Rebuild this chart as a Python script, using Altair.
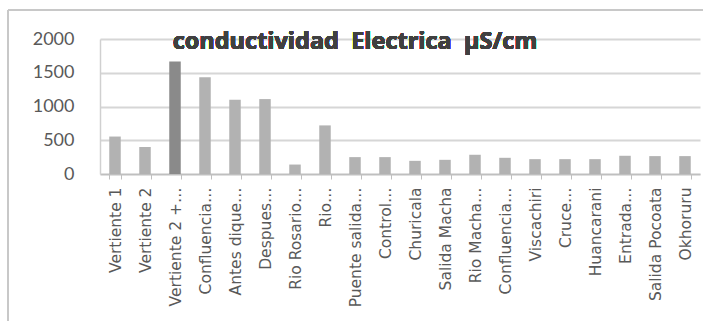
import altair as alt
import pandas as pd

# Sampling points and measured electrical conductivity (µS/cm)
sites = [
    "Vertiente 1", "Vertiente 2", "Vertiente 2 +…", "Confluencia…", "Antes dique…",
    "Despues…", "Rio Rosario…", "Rio…", "Puente salida…", "Control…",
    "Churicala", "Salida Macha", "Rio Macha…", "Confluencia…", "Viscachiri",
    "Cruce…", "Huancarani", "Entrada…", "Salida Pocoata", "Okhoruru",
]
conductivity = [
    555, 400, 1665, 1435, 1100, 1110, 140, 720, 250, 250,
    195, 210, 285, 240, 220, 220, 220, 270, 265, 265,
]
# Highlighted station drawn in a darker shade
highlight = [False, False, True] + [False] * 17

keys = [f"{i:02d}" for i in range(len(sites))]
df = pd.DataFrame({"key": keys, "site": sites, "value": conductivity, "hl": highlight})
label_expr = "{" + ",".join(f"'{k}':'{s}'" for k, s in zip(keys, sites)) + "}[datum.value]"

FONT = "Lato"
W, H = 600, 135

x_enc = alt.X(
    "key:N",
    sort=None,
    scale=alt.Scale(paddingInner=0.62, paddingOuter=0.31),
    axis=alt.Axis(
        title=None,
        labelAngle=-90,
        labelAlign="right",
        labelBaseline="middle",
        labelExpr=label_expr,
        labelFont="DejaVu Sans",
        labelFontSize=15.5,
        labelColor="#595959",
        labelPadding=8,
        labelLimit=200,
        domainColor="#bfbfbf",
        domainWidth=1.5,
        tickColor="#bfbfbf",
        tickSize=5,
        tickBand="extent",
        grid=False,
    ),
)

bars = alt.Chart(df).mark_bar(size=11.5).encode(
    x=x_enc,
    y=alt.Y(
        "value:Q",
        scale=alt.Scale(domain=[0, 2000], nice=False),
        axis=alt.Axis(
            title=None,
            values=[0, 500, 1000, 1500, 2000],
            format="d",
            labelFont=FONT,
            labelFontSize=18,
            labelColor="#595959",
            labelPadding=26,
            tickSize=0,
            domain=True,
            domainColor="#d0d0d0",
            domainWidth=1.5,
            gridColor="#d6d6d6",
            gridWidth=2,
        ),
    ),
    color=alt.Color(
        "hl:N",
        scale=alt.Scale(domain=[False, True], range=["#b2b2b2", "#8a8a8a"]),
        legend=None,
    ),
)

title = alt.Chart(df).mark_text(
    text="conductividad\u00a0\u00a0Electrica\u00a0\u00a0µS/cm",
    font="Open Sans",
    fontSize=23.5,
    fontWeight="bold",
    color="#404040",
    align="center",
    baseline="middle",
).encode(x=alt.value(255), y=alt.value(3))

# Outer chart-area frame (top and left edges)
frame_top = alt.Chart(df).mark_rule(color="#c8c8c8", strokeWidth=2).encode(
    x=alt.value(-92), x2=alt.value(W + 10), y=alt.value(-29)
)
frame_left = alt.Chart(df).mark_rule(color="#c8c8c8", strokeWidth=2).encode(
    x=alt.value(-92), y=alt.value(-29), y2=alt.value(H + 160)
)

chart = (
    alt.layer(frame_top, frame_left, bars, title)
    .properties(
        width=W,
        height=H,
        autosize=alt.AutoSizeParams(type="none"),
        padding={"left": 100, "top": 39, "right": 3, "bottom": 147},
        background="white",
    )
    .configure_view(stroke=None)
)

chart.save("out.html", embed_options={"renderer": "svg", "actions": False})
